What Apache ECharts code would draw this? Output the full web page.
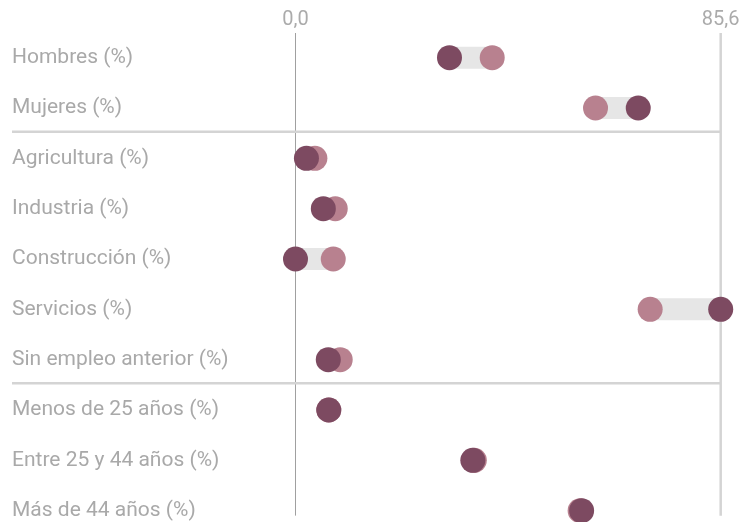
<!DOCTYPE html>
<html><head><meta charset="utf-8">
<script src="https://cdn.jsdelivr.net/npm/echarts@6/dist/echarts.min.js"></script>
<style>html,body{margin:0;padding:0;background:#fff}#c{width:745px;height:522px}</style>
</head><body><div id="c"></div>
<script>
const categories = [
  'Hombres (%)', 'Mujeres (%)', 'Agricultura (%)', 'Industria (%)', 'Construcción (%)',
  'Servicios (%)', 'Sin empleo anterior (%)', 'Menos de 25 años (%)', 'Entre 25 y 44 años (%)', 'Más de 44 años (%)'
];
const lightValues = [39.6, 60.4, 3.9, 8.0, 7.6, 71.4, 9.0, 6.7, 36.0, 57.3];
const darkValues  = [31.0, 69.0, 2.2, 5.6, 0.0, 85.6, 6.6, 6.7, 35.7, 57.6];
const axisMin = 0;
const axisMax = 85.6;
const separatorAfter = [1, 6];
const refLines = [0, 85.6];

const FONT = 'Roboto, "Liberation Sans", Arial, sans-serif';
const LIGHT = '#b8818f';
const DARK = '#7d4a61';

const bandData = categories.map((c, i) => [Math.min(lightValues[i], darkValues[i]), Math.max(lightValues[i], darkValues[i]), i]);
const lightData = categories.map((c, i) => [lightValues[i], i]);
const darkData = categories.map((c, i) => [darkValues[i], i]);

const chart = echarts.init(document.getElementById('c'));
chart.setOption({
  animation: false,
  grid: { left: 295.5, top: 32.5, width: 425.2, height: 503.3, outerBoundsMode: 'none', containLabel: false },
  xAxis: {
    type: 'value', position: 'top', min: axisMin, max: axisMax, interval: axisMax,
    axisLine: { show: false }, axisTick: { show: false }, splitLine: { show: false },
    axisLabel: {
      margin: 3, color: '#ababab', fontSize: 20, fontFamily: FONT,
      formatter: v => v.toFixed(1).replace('.', ',')
    }
  },
  yAxis: {
    type: 'category', data: categories, inverse: true,
    axisLine: { show: false }, axisTick: { show: false }, splitLine: { show: false },
    axisLabel: { align: 'left', margin: 283.5, color: '#a9a9a9', fontSize: 21, fontFamily: FONT, padding: [3, 0, 0, 0] }
  },
  series: [
    {
      type: 'custom', z: 1, silent: true,
      data: refLines.map((v, i) => [v, i]),
      encode: { x: 0 },
      renderItem(params, api) {
        const v = api.value(0);
        const x = api.coord([v, 0])[0];
        const cs = params.coordSys;
        const yEnd = api.coord([v, categories.length - 1])[1] + 5;
        const isZero = api.value(1) === 0;
        return {
          type: 'line',
          shape: { x1: x, y1: cs.y + 0.5, x2: x, y2: yEnd },
          style: { stroke: isZero ? '#a0a0a0' : '#d4d4d4', lineWidth: isZero ? 1 : 2.5 }
        };
      }
    },
    {
      type: 'custom', z: 1, silent: true,
      data: separatorAfter.map(i => [axisMax, i]),
      encode: { x: 0, y: 1 },
      renderItem(params, api) {
        const p = api.coord([api.value(0), api.value(1)]);
        const bw = api.size([0, 1])[1];
        const y = p[1] + bw / 2 - 1.5;
        return {
          type: 'line',
          shape: { x1: 12, y1: y, x2: p[0], y2: y },
          style: { stroke: '#d4d4d4', lineWidth: 2.5 }
        };
      }
    },
    {
      type: 'custom', z: 2, silent: true,
      data: bandData,
      encode: { x: [0, 1], y: 2 },
      renderItem(params, api) {
        const s = api.coord([api.value(0), api.value(2)]);
        const e = api.coord([api.value(1), api.value(2)]);
        const h = 22;
        return { type: 'rect', shape: { x: s[0], y: s[1] - h / 2, width: e[0] - s[0], height: h }, style: { fill: '#e6e6e6' } };
      }
    },
    {
      type: 'scatter', z: 3, data: lightData, symbolSize: 25,
      itemStyle: { color: LIGHT, opacity: 1 }
    },
    {
      type: 'scatter', z: 4, data: darkData, symbolSize: 25,
      itemStyle: { color: DARK, opacity: 1 }
    }
  ]
});
</script>
</body></html>
